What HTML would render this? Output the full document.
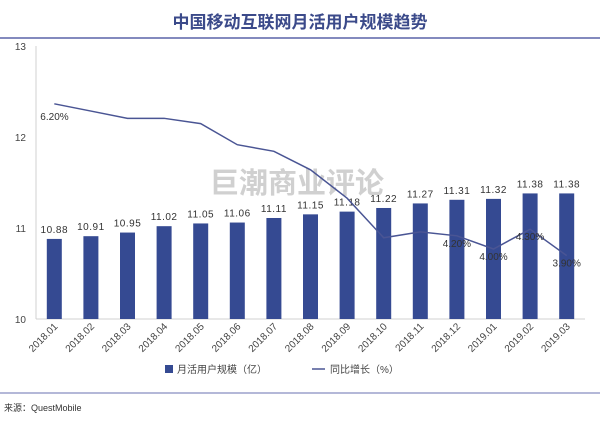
<!DOCTYPE html>
<html><head><meta charset="utf-8"><style>
html,body{margin:0;padding:0;background:#fff;}
svg{display:block;font-family:"Liberation Sans","Noto Sans CJK SC",sans-serif;}
</style></head><body>
<svg id="c" width="600" height="421" xmlns="http://www.w3.org/2000/svg">
<text x="300" y="28" text-anchor="middle" font-size="17" font-weight="bold" fill="#3b4a8a">中国移动互联网月活用户规模趋势</text>
<line x1="0" y1="38" x2="600" y2="38" stroke="#5a64a8" stroke-width="1.5"/>
<text x="210" y="193" font-size="29" font-weight="bold" fill="#c8c8c8" opacity="0.85">巨潮商业评论</text>
<g id="plot"></g>
<g>
<rect x="165" y="365" width="8" height="8" fill="#354a92"/>
<text x="177" y="373" font-size="10" fill="#444">月活用户规模（亿）</text>
<line x1="312" y1="369" x2="325" y2="369" stroke="#4a5594" stroke-width="1.5"/>
<text x="330" y="373" font-size="10" fill="#444">同比增长（%）</text>
</g>
<line x1="0" y1="393" x2="600" y2="393" stroke="#6a72b0" stroke-width="1"/>
<text x="4" y="411" font-size="9" fill="#333">来源：QuestMobile</text>
</svg>
<script>
const categories=["2018.01","2018.02","2018.03","2018.04","2018.05","2018.06","2018.07","2018.08","2018.09","2018.10","2018.11","2018.12","2019.01","2019.02","2019.03"];
const mau=[10.88,10.91,10.95,11.02,11.05,11.06,11.11,11.15,11.18,11.22,11.27,11.31,11.32,11.38,11.38];
const growth=[6.2,6.09,5.98,5.98,5.9,5.58,5.48,5.2,4.77,4.17,4.26,4.2,4.0,4.3,3.9];
const growthLabels=["6.20%","","","","","","","","","","","4.20%","4.00%","4.30%","3.90%"];
const yTicks=[10,11,12,13];
const NS="http://www.w3.org/2000/svg";
const g=document.getElementById('plot');
const x0=36,band=36.6;
const xc=i=>x0+band/2+i*band;
const y=v=>319-(v-10)*91;
const y2=v=>249-(v-4.0)*66;
function mk(t,a){const e=document.createElementNS(NS,t);for(const k in a)e.setAttribute(k,a[k]);g.appendChild(e);return e;}
let e=mk('line',{x1:x0,y1:46,x2:x0,y2:319,stroke:'#d0d0d0'});


e=mk('line',{x1:x0,y1:319,x2:x0+band*15,y2:319,stroke:'#d0d0d0'});


yTicks.forEach(v=>{const t=mk('text',{x:26,y:y(v)+4,'text-anchor':'end','font-size':'10',fill:'#444'});t.textContent=v;

});
categories.forEach((c,i)=>{
 const r=mk('rect',{x:xc(i)-7.5,y:y(mau[i]),width:15,height:319-y(mau[i]),fill:'#354a92'});
 
 
 const t=mk('text',{x:xc(i),y:y(mau[i])-6,'text-anchor':'middle','font-size':'10',fill:'#333','letter-spacing':'0.5'});t.textContent=mau[i].toFixed(2);
 
 
 const lx=xc(i)+4,ly=327;
 const xl=mk('text',{x:lx,y:ly,'text-anchor':'end','font-size':'10',fill:'#444',transform:`rotate(-45 ${lx} ${ly})`});xl.textContent=c;
 
 
});
const p=mk('polyline',{points:growth.map((v,i)=>xc(i)+','+y2(v)).join(' '),fill:'none',stroke:'#4a5594','stroke-width':'1.5'});


growthLabels.forEach((s,i)=>{if(!s)return;
 const t=mk('text',{x:i==0?xc(i)-14:xc(i),y:i==0?y2(growth[i])+16:y2(growth[i])+11,'text-anchor':i==0?'start':'middle','font-size':'10',fill:'#333'});t.textContent=s;
 
 
});
</script>
</body></html>
